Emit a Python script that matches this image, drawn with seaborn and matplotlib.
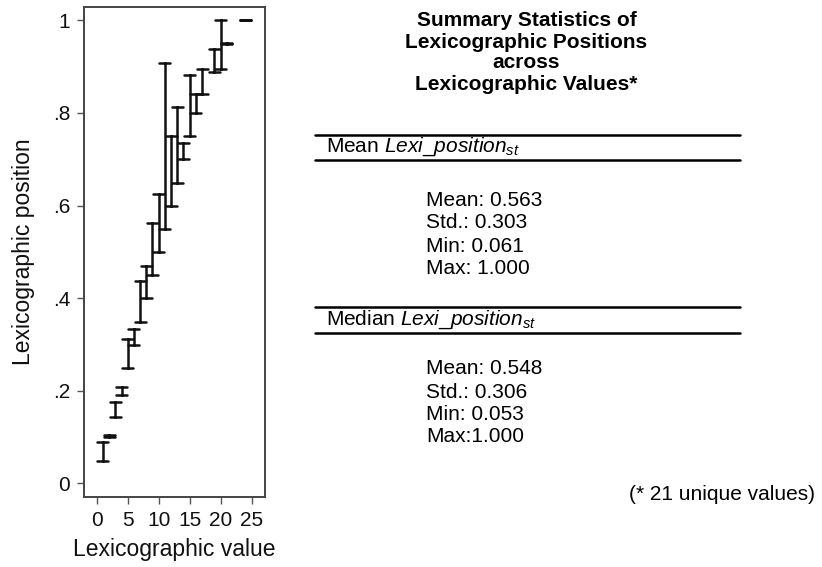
import matplotlib
matplotlib.use("Agg")
import matplotlib.pyplot as plt
from matplotlib.lines import Line2D
import seaborn as sns
import pandas as pd

# ---- data ----
lex_values = [1, 2, 3, 4, 5, 6, 7, 8, 9, 10, 11, 12, 13, 14, 15, 16, 17, 19, 20, 21, 24]
pos_low = [0.049, 0.100, 0.143, 0.191, 0.250, 0.299, 0.349, 0.400, 0.450, 0.499, 0.549,
           0.600, 0.649, 0.700, 0.750, 0.799, 0.842, 0.889, 0.895, 0.948, 1.000]
pos_high = [0.090, 0.104, 0.175, 0.209, 0.312, 0.333, 0.437, 0.470, 0.563, 0.626, 0.909,
            0.750, 0.812, 0.736, 0.882, 0.842, 0.895, 0.938, 1.000, 0.952, 1.000]
x_ticks = [0, 5, 10, 15, 20, 25]
y_ticks = [0, 0.2, 0.4, 0.6, 0.8, 1.0]
y_tick_labels = ["0", ".2", ".4", ".6", ".8", "1"]

title_lines = ["Summary Statistics of", "Lexicographic Positions", "across",
               "Lexicographic Values*"]
mean_header = r"Mean $\mathit{Lexi\_position}_{\mathit{st}}$"
median_header = r"Median $\mathit{Lexi\_position}_{\mathit{st}}$"
mean_stats = ["Mean: 0.563", "Std.: 0.303", "Min: 0.061", "Max: 1.000"]
median_stats = ["Mean: 0.548", "Std.: 0.306", "Min: 0.053", "Max:1.000"]
footnote = "(* 21 unique values)"

# long table: two rows per lexicographic value (low and high end)
df = pd.DataFrame({
    "value": lex_values + lex_values,
    "position": pos_low + pos_high,
})

sns.set_style("ticks")
plt.rcParams["font.family"] = ["Liberation Sans", "DejaVu Sans"]
plt.rcParams["text.color"] = "black"
plt.rcParams["mathtext.fontset"] = "custom"
plt.rcParams["mathtext.rm"] = "Liberation Sans"
plt.rcParams["mathtext.it"] = "Liberation Sans:italic"

W, H = 822, 567
fig = plt.figure(figsize=(W / 100, H / 100), dpi=100)
ax = fig.add_axes([84 / W, 1 - 497 / H, (265 - 84) / W, (497 - 7) / H])

sns.pointplot(data=df, x="value", y="position", native_scale=True,
              estimator="mean", errorbar=("pi", 100), capsize=1.8,
              color="#111111", marker="", linestyle="none",
              err_kws={"linewidth": 1.8}, ax=ax)

ax.set_xlim(-2.05, 27.15)
ax.set_ylim(-0.0296, 1.029)
ax.set_xticks(x_ticks)
ax.set_xticklabels([str(t) for t in x_ticks])
ax.set_yticks(y_ticks)
ax.set_yticklabels(y_tick_labels)
ax.tick_params(axis="both", direction="out", length=5, width=1.0, color="#555555",
               labelsize=15, labelcolor="#111111", pad=5)
for s in ax.spines.values():
    s.set_visible(True)
    s.set_color("#444444")
    s.set_linewidth(1.4)
ax.set_xlabel("Lexicographic value", fontsize=16.5, color="#111111", labelpad=6)
ax.set_ylabel("Lexicographic position", fontsize=16.5, color="#111111", labelpad=13)


def fy(y):
    return 1 - y / H


# ---- summary panel ----
for txt, yc in zip(title_lines, [20, 42, 63, 85]):
    fig.text(526.5 / W, fy(yc), txt, ha="center", va="center", fontsize=15,
             fontweight="bold", color="black")

for yl in [135, 160, 307, 333]:
    fig.add_artist(Line2D([315 / W, 740 / W], [fy(yl), fy(yl)],
                          transform=fig.transFigure, color="black", linewidth=1.8))

fig.text(326 / W, fy(147), mean_header, ha="left", va="center", fontsize=15, color="black")
fig.text(326 / W, fy(320), median_header, ha="left", va="center", fontsize=15, color="black")

for txt, yc in zip(mean_stats, [200, 223, 246, 269]):
    fig.text(426 / W, fy(yc), txt, ha="left", va="center", fontsize=15, color="black")
for txt, yc in zip(median_stats, [369, 392, 415, 437]):
    fig.text(426 / W, fy(yc), txt, ha="left", va="center", fontsize=15, color="black")

fig.text(815 / W, fy(495), footnote, ha="right", va="center", fontsize=15, color="black")

fig.savefig("out.png", dpi=100)
